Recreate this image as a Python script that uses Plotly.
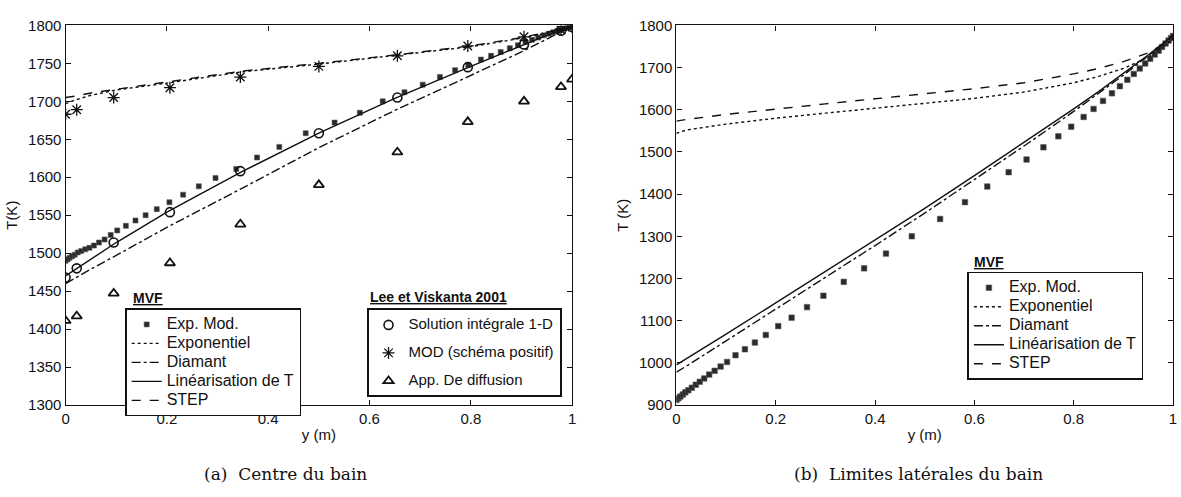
import plotly.graph_objects as go

# ---------------- (a) Centre du bain ----------------
grid = [0.000, 0.004, 0.008, 0.013, 0.018, 0.024, 0.031, 0.039, 0.047, 0.056, 0.066,
        0.077, 0.089, 0.102, 0.119, 0.138, 0.158, 0.180, 0.205, 0.232, 0.263, 0.296,
        0.337, 0.378, 0.422, 0.474, 0.531, 0.581, 0.626, 0.669, 0.705, 0.739, 0.769,
        0.795, 0.820, 0.840, 0.859, 0.877, 0.893, 0.908, 0.921, 0.933, 0.944, 0.954,
        0.963, 0.971, 0.978, 0.985, 0.991, 0.996, 1.000]

a_expmod = [1490, 1492, 1494, 1496, 1498, 1501, 1503, 1505, 1507, 1510, 1514,
            1518, 1524, 1530, 1536, 1543, 1550, 1558, 1567, 1577, 1588, 1599,
            1611, 1626, 1640, 1658, 1672, 1685, 1700, 1712, 1722, 1732, 1741,
            1748, 1755, 1760, 1765, 1770, 1774, 1778, 1781, 1784, 1787, 1789,
            1791, 1793, 1794, 1796, 1797, 1798, 1799]

a_line_x = [0.0, 0.02, 0.05, 0.1, 0.2, 0.35, 0.5, 0.65, 0.8, 0.9, 0.95, 1.0]
a_expo = [1697, 1702, 1708, 1715, 1724, 1739, 1749, 1760, 1772, 1783, 1790, 1799]
a_diamant = [1460, 1468, 1479, 1497, 1534, 1586, 1639, 1688, 1734, 1765, 1782, 1799]
a_lin = [1470, 1479, 1492, 1514, 1554, 1608, 1658, 1704, 1746, 1774, 1787, 1799]
a_step = [1705, 1707, 1711, 1716, 1725, 1740, 1750, 1761, 1773, 1784, 1791, 1799]

lee_x = [0.0, 0.022, 0.095, 0.206, 0.345, 0.5, 0.655, 0.794, 0.905, 0.978, 1.0]
lee_integrale = [1468, 1480, 1514, 1554, 1608, 1658, 1705, 1745, 1775, 1793, 1798]
lee_mod = [1683, 1689, 1705, 1718, 1732, 1746, 1760, 1773, 1785, 1794, 1798]
lee_diffusion = [1411, 1417, 1447, 1487, 1538, 1590, 1633, 1673, 1700, 1719, 1729]

# ---------------- (b) Limites latérales du bain ----------------
b_expmod = [912, 916, 920, 925, 930, 935, 941, 948, 955, 963, 972,
            981, 991, 1002, 1018, 1032, 1048, 1066, 1087, 1107, 1132, 1159,
            1192, 1224, 1259, 1300, 1341, 1381, 1418, 1452, 1482, 1511, 1537,
            1560, 1583, 1602, 1621, 1639, 1656, 1671, 1685, 1698, 1710, 1721,
            1731, 1740, 1749, 1757, 1764, 1770, 1775]

b_line_x = [0.0, 0.02, 0.1, 0.2, 0.3, 0.4, 0.5, 0.6, 0.7, 0.8, 0.85, 0.9, 0.95, 1.0]
b_expo = [1544, 1552, 1566, 1580, 1592, 1604, 1615, 1627, 1642, 1664, 1679, 1698, 1725, 1768]
b_diamant = [978, 992, 1052, 1127, 1202, 1278, 1355, 1434, 1514, 1596, 1638, 1682, 1728, 1776]
b_lin = [995, 1010, 1068, 1142, 1216, 1291, 1366, 1444, 1522, 1602, 1643, 1686, 1730, 1776]
b_step = [1573, 1577, 1589, 1602, 1614, 1626, 1638, 1650, 1664, 1685, 1698, 1714, 1735, 1768]

x_ticks = [0, 0.2, 0.4, 0.6, 0.8, 1]
x_ticktext = ["0", "0.2", "0.4", "0.6", "0.8", "1"]

FONT = "Liberation Sans, Arial, sans-serif"
SERIF = "DejaVu Serif, serif"
BLK = "#111111"
LW = 1.4
W, H = 1181, 497


def lbl(s, size=16):
    return "<span style='font-size:%dpx'>%s</span>" % (size, s)


fig = go.Figure()


def mvf_traces(xa, ya, legend, grp, expmod, lx, expo, diam, lin, step, msize):
    fig.add_trace(go.Scatter(x=grid, y=expmod, mode="markers", name=lbl("Exp. Mod."),
                             marker=dict(symbol="square", size=msize, color="#2a2a2a",
                                         line=dict(color="#555", width=0.6)),
                             xaxis=xa, yaxis=ya, legend=legend, legendgroup=grp + "1"))
    fig.add_trace(go.Scatter(x=lx, y=expo, mode="lines", name=lbl("Exponentiel"),
                             line=dict(color=BLK, width=LW, dash="dot"),
                             xaxis=xa, yaxis=ya, legend=legend, legendgroup=grp + "2"))
    fig.add_trace(go.Scatter(x=lx, y=diam, mode="lines", name=lbl("Diamant"),
                             line=dict(color=BLK, width=LW, dash="dashdot"),
                             xaxis=xa, yaxis=ya, legend=legend, legendgroup=grp + "3"))
    fig.add_trace(go.Scatter(x=lx, y=lin, mode="lines", name=lbl("Linéarisation de T"),
                             line=dict(color=BLK, width=LW, dash="solid"),
                             xaxis=xa, yaxis=ya, legend=legend, legendgroup=grp + "4"))
    fig.add_trace(go.Scatter(x=lx, y=step, mode="lines", name=lbl("STEP"),
                             line=dict(color=BLK, width=LW, dash="dash"),
                             xaxis=xa, yaxis=ya, legend=legend, legendgroup=grp + "5"))


mvf_traces("x", "y", "legend", "a", a_expmod, a_line_x, a_expo, a_diamant, a_lin, a_step, 5)

fig.add_trace(go.Scatter(x=lee_x, y=lee_integrale, mode="markers", name=lbl("Solution intégrale 1-D", 15),
                         marker=dict(symbol="circle-open", size=9, color=BLK, line=dict(width=1.6)),
                         xaxis="x", yaxis="y", legend="legend2", legendgroup="l1"))
fig.add_trace(go.Scatter(x=lee_x, y=lee_mod, mode="markers", name=lbl("MOD (schéma positif)", 15),
                         marker=dict(symbol="asterisk-open", size=10, color=BLK, line=dict(width=1.3)),
                         xaxis="x", yaxis="y", legend="legend2", legendgroup="l2"))
fig.add_trace(go.Scatter(x=lee_x, y=lee_diffusion, mode="markers", name=lbl("App. De diffusion", 15),
                         marker=dict(symbol="triangle-up-open", size=9, color=BLK, line=dict(width=1.8)),
                         xaxis="x", yaxis="y", legend="legend2", legendgroup="l3"))

mvf_traces("x2", "y2", "legend3", "b", b_expmod, b_line_x, b_expo, b_diamant, b_lin, b_step, 5.5)

axis_common = dict(showline=True, linecolor=BLK, linewidth=1.3, mirror="ticks",
                   ticks="inside", ticklen=5, tickcolor=BLK, showgrid=False,
                   zeroline=False, tickfont=dict(family=FONT, size=15, color=BLK))

ydom = [1 - 410 / H, 1 - 17 / H]
leg_common = dict(xanchor="left", yanchor="top", bordercolor=BLK, bgcolor="white",
                  font=dict(family=FONT, size=11, color=BLK), itemwidth=30)
fig.update_layout(
    width=W, height=H,
    margin=dict(l=0, r=0, t=0, b=0),
    paper_bgcolor="white", plot_bgcolor="white",
    font=dict(family=FONT, size=15, color=BLK),
    xaxis=dict(domain=[62 / W, 572 / W], range=[0, 1], tickvals=x_ticks,
               ticktext=x_ticktext, anchor="y",
               title=dict(text="y (m)", standoff=3, font=dict(size=15)), **axis_common),
    yaxis=dict(domain=ydom, range=[1300, 1800], dtick=50, anchor="x",
               title=dict(text="T(K)", standoff=6, font=dict(size=15)), **axis_common),
    xaxis2=dict(domain=[677 / W, 1177 / W], range=[0, 1], tickvals=x_ticks,
                ticktext=x_ticktext, anchor="y2",
                title=dict(text="y (m)", standoff=3, font=dict(size=15)), **axis_common),
    yaxis2=dict(domain=ydom, range=[900, 1800], dtick=100, anchor="x2",
                title=dict(text="T (K)", standoff=6, font=dict(size=15)), **axis_common),
    legend=dict(x=122 / W, y=1 - 310 / H, borderwidth=1.5, tracegroupgap=0, **leg_common),
    legend2=dict(x=365 / W, y=1 - 310 / H, borderwidth=2, tracegroupgap=9, **leg_common),
    legend3=dict(x=970 / W, y=1 - 272 / H, borderwidth=1.5, tracegroupgap=0, **leg_common),
    showlegend=True,
)

# Legend titles (underlined, outside the boxes)
titles = [("MVF", 128, 299), ("Lee et Viskanta 2001", 366, 298), ("MVF", 975, 262)]
for text, px, py in titles:
    fig.add_annotation(text="<b><u>" + text + "</u></b>", x=px / W, y=1 - py / H,
                       xref="paper", yref="paper", xanchor="left", yanchor="middle",
                       showarrow=False, font=dict(family=FONT, size=14, color=BLK))

# Captions
fig.add_annotation(text="(a)  Centre du bain", x=283 / W, y=1 - 481 / H,
                   xref="paper", yref="paper", xanchor="center", yanchor="middle",
                   showarrow=False, font=dict(family=SERIF, size=17, color=BLK))
fig.add_annotation(text="(b)  Limites latérales du bain", x=921 / W, y=1 - 481 / H,
                   xref="paper", yref="paper", xanchor="center", yanchor="middle",
                   showarrow=False, font=dict(family=SERIF, size=17, color=BLK))

fig.write_html("out.html", config={"displayModeBar": False},
               post_script="document.body.style.margin='0px';")
